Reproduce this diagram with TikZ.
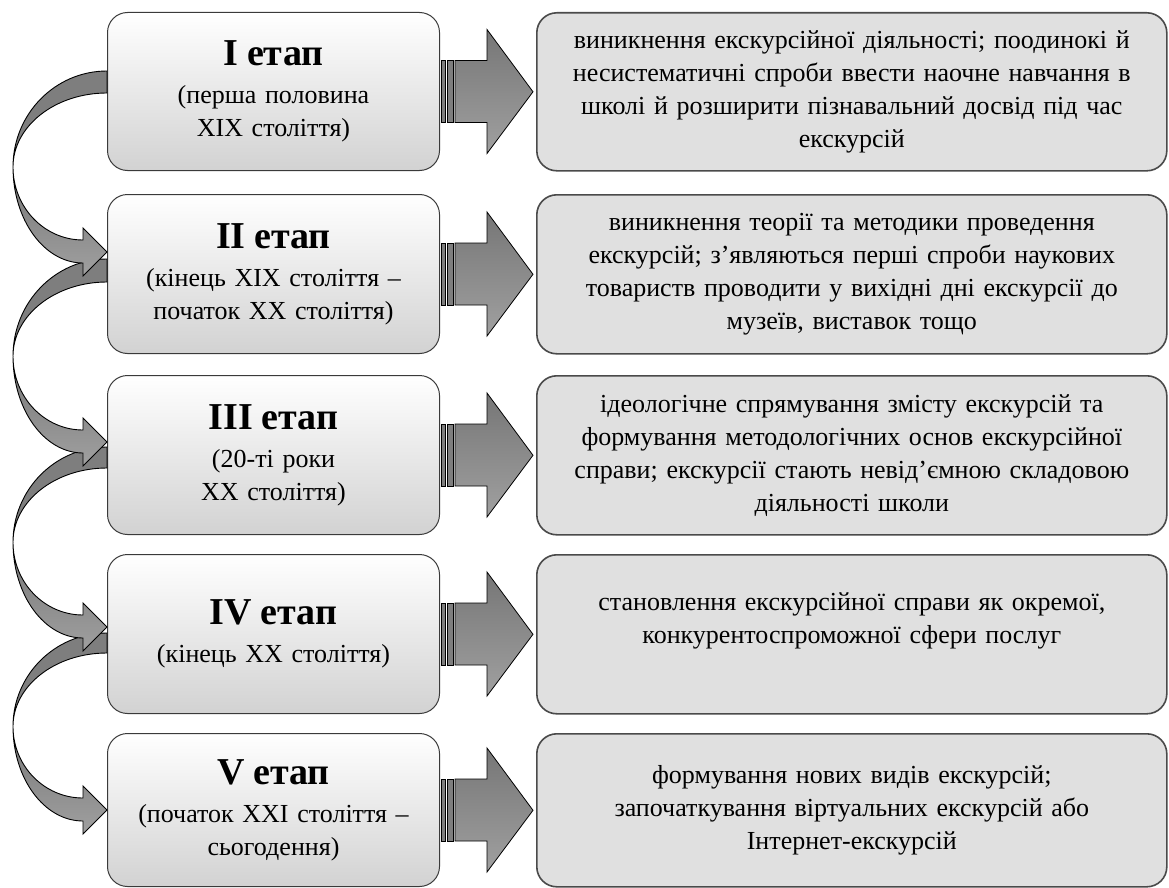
\documentclass[tikz,border=0pt]{standalone}
\usepackage{fontspec}
\setmainfont{Liberation Serif}
\usetikzlibrary{calc}
\definecolor{lline}{HTML}{3A3A3A}
\definecolor{rline}{HTML}{4A4A4A}
\definecolor{rfill}{HTML}{E0E0E0}
\definecolor{lbot}{HTML}{D2D2D2}
\definecolor{lmid}{HTML}{F7F7F7}
\definecolor{atop}{HTML}{767676}
\definecolor{abot}{HTML}{A0A0A0}
\definecolor{cback}{HTML}{7E7E7E}
\tikzset{
  lbox/.style={draw=lline, line width=1pt, rounded corners=20pt,
    top color=white, middle color=lmid, bottom color=lbot,
    minimum width=332pt, inner sep=0pt, text width=320pt, align=center,
    anchor=north west, font=\fontsize{26}{33}\selectfont},
  rbox/.style={draw=rline, line width=1.6pt, rounded corners=20pt, fill=rfill,
    minimum width=630pt, inner sep=0pt, text width=620pt, align=center,
    anchor=north west, font=\fontsize{26}{33}\selectfont},
  barsty/.style={draw=black, line width=0.7pt, fill=cback},
  arrsty/.style={draw=black, line width=0.8pt, top color=atop, bottom color=abot},
  cbacksty/.style={draw=black, line width=0.9pt, fill=cback},
  cfrontsty/.style={draw=black, line width=0.9pt, top color=atop, bottom color=abot},
}
\newcommand{\etaptitle}[1]{{\fontsize{38}{40}\selectfont\bfseries #1\par}\vspace{5pt}}
% block arrow from left node to right node
\newcommand{\blockarrow}[2]{%
  \draw[barsty] ($(#1.east)+(1,-31)$) rectangle ($(#1.east)+(5,31)$);
  \draw[barsty] ($(#1.east)+(7,-31)$) rectangle ($(#1.east)+(13,31)$);
  \draw[arrsty] ($(#1.east)+(15,-31)$) -- ($(#1.east)+(47,-31)$) -- ($(#1.east)+(47,-62)$)
     -- ($(#2.west)+(-3,0)$) -- ($(#1.east)+(47,62)$) -- ($(#1.east)+(47,31)$)
     -- ($(#1.east)+(15,31)$) -- cycle;
}
% curved arrow: #1 tail top y, #2 tail bottom y, #3 tip y
\newcommand{\curvarrow}[3]{%
  \pgfmathsetmacro{\cym}{((#1+#2)/2+#3)/2}
  \pgfmathsetmacro{\cua}{\cym-0.5523*(\cym-#1)}
  \pgfmathsetmacro{\cub}{\cym-0.5523*(\cym-#2)}
  \pgfmathsetmacro{\cbo}{#3+11}
  \pgfmathsetmacro{\cbi}{#3-12}
  \pgfmathsetmacro{\cla}{\cym+0.5523*(\cbo-\cym)}
  \pgfmathsetmacro{\clb}{\cym+0.5523*(\cbi-\cym)}
  \pgfmathsetmacro{\cht}{#3-24}
  \pgfmathsetmacro{\chb}{#3+24}
  \draw[cbacksty] (107,#1) .. controls (55.1,#1) and (13,\cua) .. (13,\cym)
     .. controls (13,\cub) and (55.1,#2) .. (107,#2) -- cycle;
  \draw[cfrontsty] (13,\cym) .. controls (13,\cla) and (44.3,\cbo) .. (83,\cbo)
     -- (83,\chb) -- (107,#3) -- (83,\cht) -- (83,\cbi)
     .. controls (44.3,\cbi) and (13,\clb) .. (13,\cym) -- cycle;
}
\begin{document}
\begin{tikzpicture}[x=1pt,y=-1pt]
\useasboundingbox (0,0) rectangle (1169,888);
% left boxes
\node[lbox, minimum height=158pt] (l1) at (107,12) {\etaptitle{I етап}(перша половина\\XIX століття)};
\node[lbox, minimum height=159pt] (l2) at (107,194) {\etaptitle{II етап}(кінець XIX століття –\\початок XX століття)};
\node[lbox, minimum height=159pt] (l3) at (107,375) {\etaptitle{III етап}(20-ті роки\\XX століття)};
\node[lbox, minimum height=159pt] (l4) at (107,554) {\etaptitle{IV етап}(кінець XX століття)\par\vspace{16pt}};
\node[lbox, minimum height=153pt] (l5) at (107,733) {\etaptitle{V етап}(початок XXI століття –\\сьогодення)};
% right boxes
\node[rbox, minimum height=158pt] (r1) at (536,12) {виникнення екскурсійної діяльності; поодинокі й\\несистематичні спроби ввести наочне навчання в\\школі й розширити пізнавальний досвід під час\\екскурсій};
\node[rbox, minimum height=159pt] (r2) at (536,194) {виникнення теорії та методики проведення\\екскурсій; з’являються перші спроби наукових\\товариств проводити у вихідні дні екскурсії до\\музеїв, виставок тощо};
\node[rbox, minimum height=159pt] (r3) at (536,375) {ідеологічне спрямування змісту екскурсій та\\формування методологічних основ екскурсійної\\справи; екскурсії стають невід’ємною складовою\\діяльності школи};
\node[rbox, minimum height=159pt] (r4) at (536,554) {становлення екскурсійної справи як окремої,\\конкурентоспроможної сфери послуг\\\mbox{}};
\node[rbox, minimum height=153pt] (r5) at (536,733) {формування нових видів екскурсій;\\започаткування віртуальних екскурсій або\\Інтернет-екскурсій};
% block arrows
\blockarrow{l1}{r1}
\blockarrow{l2}{r2}
\blockarrow{l3}{r3}
\blockarrow{l4}{r4}
\blockarrow{l5}{r5}
% curved arrows
\curvarrow{633}{653}{810}
\curvarrow{447}{468}{627}
\curvarrow{259}{282}{442}
\curvarrow{71}{93}{252}
\end{tikzpicture}
\end{document}
